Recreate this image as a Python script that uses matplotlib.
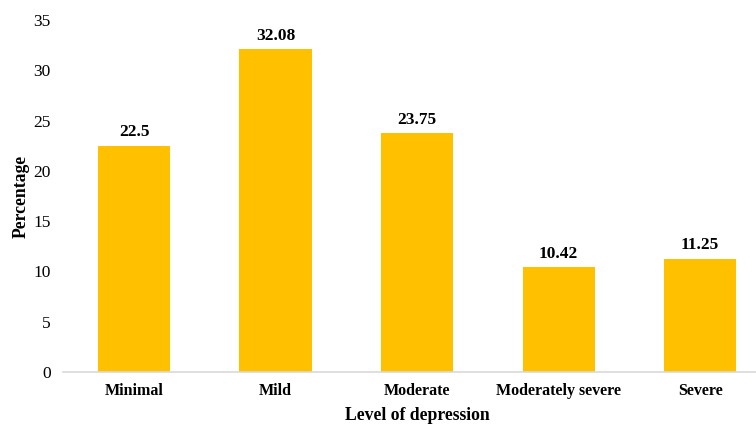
import matplotlib.pyplot as plt

levels = ['Minimal', 'Mild', 'Moderate', 'Moderately severe', 'Severe']
percentages = [22.5, 32.08, 23.75, 10.42, 11.25]
value_labels = ['22.5', '32.08', '23.75', '10.42', '11.25']

plt.rcParams['font.family'] = ['Liberation Serif', 'DejaVu Serif']

fig = plt.figure(figsize=(7.56, 4.26), dpi=100)
ax = fig.add_axes([0.0837, 0.1268, 0.936, 0.8263])

x = range(len(levels))
bars = ax.bar(x, percentages, width=0.51, color='#FFC000', zorder=2)

for bar, text in zip(bars, value_labels):
    ax.annotate(text, (bar.get_x() + bar.get_width() / 2, bar.get_height()),
                xytext=(0, 4), textcoords='offset points',
                ha='center', va='bottom', fontsize=12.5, fontweight='bold')

ax.set_xlim(-0.5, 4.5)
ax.set_ylim(0, 35)
ax.set_yticks(range(0, 36, 5))
ax.set_xticks(list(x))
ax.set_xticklabels(levels, fontsize=11.5, fontweight='bold')
ax.tick_params(axis='y', labelsize=12.5, length=0, pad=9)
ax.tick_params(axis='x', length=0, pad=8)

for side in ['top', 'right', 'left']:
    ax.spines[side].set_visible(False)
ax.spines['bottom'].set_color('#d9d9d9')
ax.spines['bottom'].set_linewidth(1.2)

ax.set_xlabel('Level of depression', fontsize=12.7, fontweight='bold', labelpad=6)
ax.set_ylabel('Percentage', fontsize=12.7, fontweight='bold', labelpad=3)

fig.savefig('out.png', dpi=100)
